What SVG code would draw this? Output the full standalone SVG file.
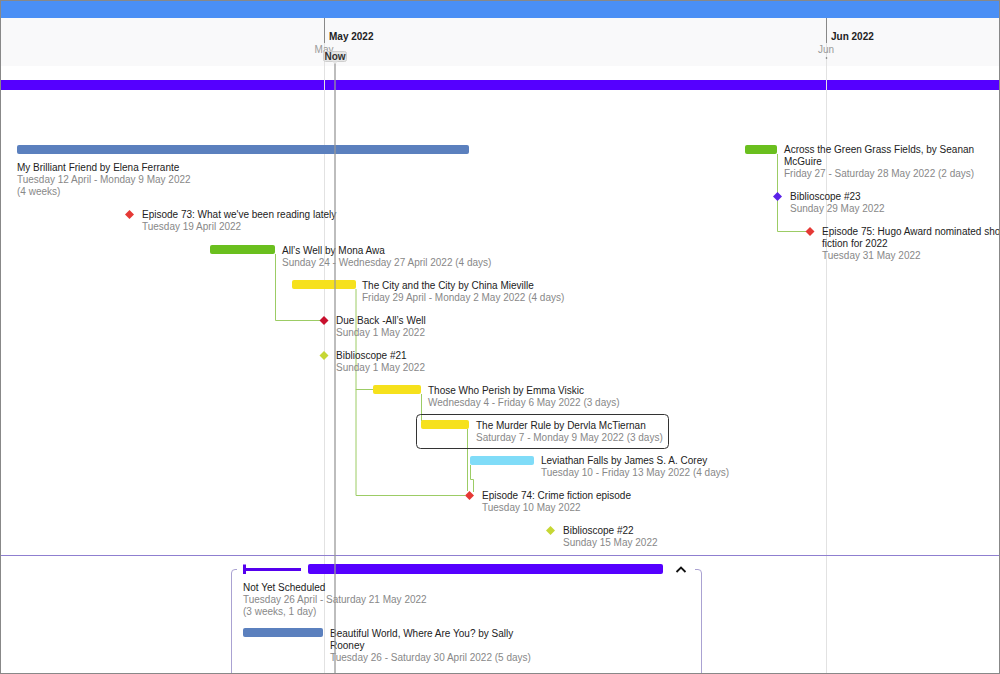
<svg xmlns="http://www.w3.org/2000/svg" width="1000" height="674" viewBox="0 0 1000 674">
<style>
  text { font-family: "Liberation Sans", Arial, sans-serif; font-size: 10px; }
  .t { fill: #222; }
  .s { fill: #888; }
  .conn { fill: none; stroke: #9ccc65; stroke-width: 1; }
  .grid { stroke: #e2e2e2; stroke-width: 1; }
</style>
<defs>
  <path id="dia" d="M0,-4.5 L4.5,0 L0,4.5 L-4.5,0 Z"/>
</defs>
<rect x="0" y="0" width="1000" height="674" fill="#ffffff"/>
<!-- header -->
<rect x="0" y="0" width="1000" height="18" fill="#4a8ff5"/>
<line x1="0" y1="0.5" x2="1000" y2="0.5" stroke="#2f5fb0"/>
<rect x="0" y="18" width="1000" height="48" fill="#f9f9fa"/>
<rect x="0" y="80" width="1000" height="10" fill="#5500ff"/>
<!-- grid lines -->
<line class="grid" x1="324.5" y1="43" x2="324.5" y2="674"/>
<line class="grid" x1="826.5" y1="43" x2="826.5" y2="674"/>
<line x1="324.5" y1="18" x2="324.5" y2="43" stroke="#888"/>
<line x1="826.5" y1="18" x2="826.5" y2="43" stroke="#888"/>
<text x="329" y="40" font-weight="bold" fill="#222">May 2022</text>
<text x="831" y="40" font-weight="bold" fill="#222">Jun 2022</text>
<text x="324" y="53" text-anchor="middle" fill="#999">May</text>
<text x="826" y="53" text-anchor="middle" fill="#999">Jun</text>
<circle cx="826.5" cy="58" r="0.8" fill="#666"/>
<line x1="0" y1="555.5" x2="1000" y2="555.5" stroke="#8f7fd0"/>

<!-- connectors -->
<g id="connectors">
  <path class="conn" d="M275.5,254 V320.5 H320"/>
  <path class="conn" d="M356,289 V389.5 H373"/>
  <path class="conn" d="M356,389 V495.5 H465"/>
  <path class="conn" d="M421.5,394 V421 H423.5 V425"/>
  <path class="conn" d="M467.5,429 V491"/>
  <path class="conn" d="M470.5,465 V479.5 H473.5 V492"/>
  <path class="conn" d="M777.5,154 V231.5 H806"/>
</g>

<g id="my-brilliant-friend">
  <rect x="17" y="145" width="452" height="9" rx="2" fill="#5b80be"/>
  <text class="t" x="17" y="171">My Brilliant Friend by Elena Ferrante</text>
  <text class="s" x="17" y="183">Tuesday 12 April - Monday 9 May 2022</text>
  <text class="s" x="17" y="195">(4 weeks)</text>
</g>
<g id="episode-73">
  <use href="#dia" x="129.5" y="214.5" fill="#e53935"/>
  <text class="t" x="142" y="218">Episode 73: What we've been reading lately</text>
  <text class="s" x="142" y="230">Tuesday 19 April 2022</text>
</g>
<g id="alls-well">
  <rect x="210" y="245" width="65" height="9" rx="2" fill="#6abf1e"/>
  <text class="t" x="282" y="254">All’s Well by Mona Awa</text>
  <text class="s" x="282" y="266">Sunday 24 - Wednesday 27 April 2022 (4 days)</text>
</g>
<g id="city-and-city">
  <rect x="292" y="280" width="64" height="9" rx="2" fill="#f6e11c"/>
  <text class="t" x="362" y="289">The City and the City by China Mieville</text>
  <text class="s" x="362" y="301">Friday 29 April - Monday 2 May 2022 (4 days)</text>
</g>
<g id="due-back">
  <use href="#dia" x="324" y="320.5" fill="#c8102e"/>
  <text class="t" x="336" y="324">Due Back -All’s Well</text>
  <text class="s" x="336" y="336">Sunday 1 May 2022</text>
</g>
<g id="biblioscope-21">
  <use href="#dia" x="324" y="355.5" fill="#c6d734"/>
  <text class="t" x="336" y="359">Biblioscope #21</text>
  <text class="s" x="336" y="371">Sunday 1 May 2022</text>
</g>
<g id="those-who-perish">
  <rect x="373" y="385" width="48" height="9" rx="2" fill="#f6e11c"/>
  <text class="t" x="428" y="394">Those Who Perish by Emma Viskic</text>
  <text class="s" x="428" y="406">Wednesday 4 - Friday 6 May 2022 (3 days)</text>
</g>
<g id="murder-rule">
  <rect x="416.5" y="414.5" width="252" height="34" rx="4" fill="none" stroke="#333"/>
  <rect x="421" y="420" width="48" height="9" rx="2" fill="#f6e11c"/>
  <text class="t" x="476" y="429">The Murder Rule by Dervla McTiernan</text>
  <text class="s" x="476" y="441">Saturday 7 - Monday 9 May 2022 (3 days)</text>
</g>
<g id="leviathan-falls">
  <rect x="470" y="456" width="64" height="9" rx="2" fill="#80dcf8"/>
  <text class="t" x="541" y="464">Leviathan Falls by James S. A. Corey</text>
  <text class="s" x="541" y="476">Tuesday 10 - Friday 13 May 2022 (4 days)</text>
</g>
<g id="episode-74">
  <use href="#dia" x="469.5" y="495.5" fill="#e53935"/>
  <text class="t" x="482" y="499">Episode 74: Crime fiction episode</text>
  <text class="s" x="482" y="511">Tuesday 10 May 2022</text>
</g>
<g id="biblioscope-22">
  <use href="#dia" x="550.5" y="530.5" fill="#c6d734"/>
  <text class="t" x="563" y="534">Biblioscope #22</text>
  <text class="s" x="563" y="546">Sunday 15 May 2022</text>
</g>
<g id="across-green-grass">
  <rect x="745" y="145" width="32" height="9" rx="2" fill="#6abf1e"/>
  <text class="t" x="784" y="153">Across the Green Grass Fields, by Seanan</text>
  <text class="t" x="784" y="165">McGuire</text>
  <text class="s" x="784" y="177">Friday 27 - Saturday 28 May 2022 (2 days)</text>
</g>
<g id="biblioscope-23">
  <use href="#dia" x="777.5" y="196.5" fill="#5a22e8"/>
  <text class="t" x="790" y="200">Biblioscope #23</text>
  <text class="s" x="790" y="212">Sunday 29 May 2022</text>
</g>
<g id="episode-75">
  <use href="#dia" x="810" y="231.5" fill="#e53935"/>
  <text class="t" x="822" y="235">Episode 75: Hugo Award nominated short</text>
  <text class="t" x="822" y="247">fiction for 2022</text>
  <text class="s" x="822" y="259">Tuesday 31 May 2022</text>
</g>

<!-- not yet scheduled group -->
<g id="not-yet-scheduled">
  <path d="M231.5,674 V573 Q231.5,569.5 235,569.5 H237" fill="none" stroke="#aaa2d2"/>
  <path d="M695,569.5 H698 Q701.5,569.5 701.5,573 V674" fill="none" stroke="#aaa2d2"/>
  <rect x="243" y="568" width="58" height="3" fill="#5500ee"/>
  <rect x="243" y="564.5" width="3" height="9.5" fill="#5500ee"/>
  <rect x="308" y="564" width="355" height="10" rx="2" fill="#5500ff"/>
  <path d="M676.5,572 L681,567.5 L685.5,572" fill="none" stroke="#111" stroke-width="1.8"/>
  <text class="t" x="243" y="591">Not Yet Scheduled</text>
  <text class="s" x="243" y="603">Tuesday 26 April - Saturday 21 May 2022</text>
  <text class="s" x="243" y="615">(3 weeks, 1 day)</text>
</g>
<g id="beautiful-world">
  <rect x="243" y="628" width="80" height="9" rx="2" fill="#5b80be"/>
  <text class="t" x="330" y="637">Beautiful World, Where Are You? by Sally</text>
  <text class="t" x="330" y="649">Rooney</text>
  <text class="s" x="330" y="661">Tuesday 26 - Saturday 30 April 2022 (5 days)</text>
</g>

<!-- now marker -->
<g id="now">
  <line x1="335" y1="62" x2="335" y2="674" stroke="#999" stroke-width="1.5" opacity="0.85"/>
  <rect x="323.5" y="51.5" width="23" height="10" rx="2" fill="#e6e6e6" stroke="#cfcfcf"/>
  <path d="M332,61.5 L335,64 L338,61.5 Z" fill="#e6e6e6"/>
  <text x="335" y="59.5" text-anchor="middle" font-size="7.5" font-weight="bold" fill="#333">Now</text>
</g>
<rect x="0.5" y="0.5" width="999" height="673" fill="none" stroke="#888"/>
</svg>
